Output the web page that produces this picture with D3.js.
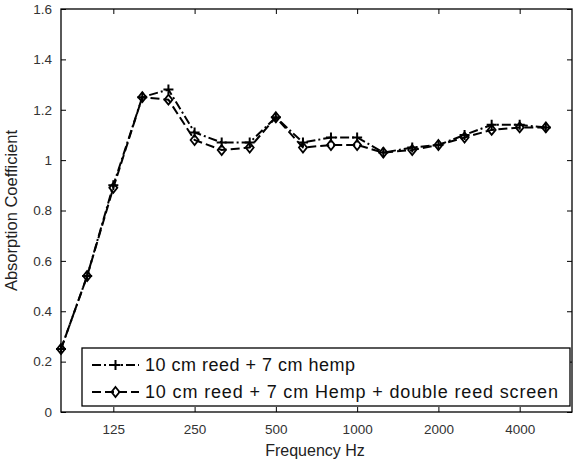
<!DOCTYPE html>
<html>
<head>
<meta charset="utf-8">
<script src="https://cdn.jsdelivr.net/npm/d3@7"></script>
<style>
body { margin: 0; background: #fff; }
svg { display: block; font-family: "Liberation Sans", Arial, Helvetica, sans-serif; }
</style>
</head>
<body>
<svg id="chart" width="578" height="462"></svg>
<script>
const frequencies = [80, 100, 125, 160, 200, 250, 315, 400, 500, 630, 800, 1000, 1250, 1600, 2000, 2500, 3150, 4000, 5000];
const reedHemp = [0.25, 0.54, 0.90, 1.25, 1.28, 1.11, 1.07, 1.07, 1.17, 1.07, 1.09, 1.09, 1.03, 1.05, 1.06, 1.10, 1.14, 1.14, 1.13];
const reedHempScreen = [0.25, 0.54, 0.89, 1.25, 1.24, 1.08, 1.04, 1.05, 1.17, 1.05, 1.06, 1.06, 1.03, 1.04, 1.06, 1.09, 1.12, 1.13, 1.13];
const xTicks = [125, 250, 500, 1000, 2000, 4000];
const yTicks = [0, 0.2, 0.4, 0.6, 0.8, 1, 1.2, 1.4, 1.6];
const seriesNames = ["10 cm reed + 7 cm hemp", "10 cm reed + 7 cm Hemp + double reed screen"];

const svg = d3.select("#chart");
const L = 61, R = 572, T = 9, B = 412;
const x = d3.scaleLog().domain([80, 6250]).range([L, R]);
const y = d3.scaleLinear().domain([0, 1.6]).range([B, T]);
const tickColor = "#333";

// box
svg.append("rect").attr("x", L).attr("y", T).attr("width", R - L).attr("height", B - T)
  .attr("fill", "none").attr("stroke", "#000").attr("stroke-width", 1.3);

// axes (ticks inward)
const xAxis = svg.append("g").attr("transform", `translate(0,${B})`)
  .call(d3.axisBottom(x).tickValues(xTicks).tickFormat(d3.format("d")).tickSizeInner(-5).tickSizeOuter(0).tickPadding(12));
const xAxisTop = svg.append("g").attr("transform", `translate(0,${T})`)
  .call(d3.axisTop(x).tickValues(xTicks).tickFormat("").tickSizeInner(-5).tickSizeOuter(0));
const yAxis = svg.append("g").attr("transform", `translate(${L},0)`)
  .call(d3.axisLeft(y).tickValues(yTicks).tickFormat(d => d3.format("")(+d.toFixed(1))).tickSizeInner(-5).tickSizeOuter(0).tickPadding(9));
const yAxisRight = svg.append("g").attr("transform", `translate(${R},0)`)
  .call(d3.axisRight(y).tickValues(yTicks).tickFormat("").tickSizeInner(-5).tickSizeOuter(0));
[xAxis, xAxisTop, yAxis, yAxisRight].forEach(g => {
  g.select(".domain").remove();
  g.selectAll(".tick line").attr("stroke", "#000").attr("stroke-width", 1);
  g.selectAll(".tick text").attr("font-size", 13.5).attr("fill", tickColor).attr("font-family", "'Liberation Sans', Arial, sans-serif");
});

// axis labels
svg.append("text").attr("x", 315).attr("y", 456).attr("text-anchor", "middle")
  .attr("font-size", 16).attr("fill", "#222").text("Frequency Hz");
svg.append("text").attr("transform", `translate(17,${(T + B) / 2}) rotate(-90)`).attr("text-anchor", "middle")
  .attr("font-size", 16.5).attr("fill", "#222").text("Absorption Coefficient");

const series = [
  { name: seriesNames[0], values: reedHemp, dash: "9,3,2,3", marker: "plus", textLen: 210 },
  { name: seriesNames[1], values: reedHempScreen, dash: "9,4", marker: "diamond", textLen: 413 }
];

const line = d3.line().x(d => x(d[0])).y(d => y(d[1]));

function drawMarker(g, type, cx, cy) {
  if (type === "plus") {
    g.append("path").attr("d", `M${cx - 5},${cy}H${cx + 5}M${cx},${cy - 5}V${cy + 5}`)
      .attr("stroke", "#000").attr("stroke-width", 2).attr("fill", "none");
  } else {
    g.append("path").attr("d", `M${cx},${cy - 5}L${cx + 4},${cy}L${cx},${cy + 5}L${cx - 4},${cy}Z`)
      .attr("stroke", "#000").attr("stroke-width", 1.8).attr("fill", "none");
  }
}

series.forEach(s => {
  const pts = frequencies.map((f, i) => [f, s.values[i]]);
  svg.append("path").datum(pts).attr("d", line).attr("fill", "none")
    .attr("stroke", "#000").attr("stroke-width", 2).attr("stroke-dasharray", s.dash);
  const g = svg.append("g");
  pts.forEach(p => drawMarker(g, s.marker, x(p[0]), y(p[1])));
});

// legend
const lg = svg.append("g");
lg.append("rect").attr("x", 82).attr("y", 348).attr("width", 488).attr("height", 58)
  .attr("fill", "#fff").attr("stroke", "#000").attr("stroke-width", 1.3);
series.forEach((s, i) => {
  const yy = 365 + i * 27;
  lg.append("line").attr("x1", 92).attr("x2", 139).attr("y1", yy).attr("y2", yy)
    .attr("stroke", "#000").attr("stroke-width", 2).attr("stroke-dasharray", s.dash);
  drawMarker(lg, s.marker, 115.5, yy);
  lg.append("text").attr("x", 145).attr("y", yy + 6).attr("font-size", 18).attr("fill", "#111")
    .attr("textLength", s.textLen).attr("lengthAdjust", "spacing").text(s.name);
});
</script>
</body>
</html>
